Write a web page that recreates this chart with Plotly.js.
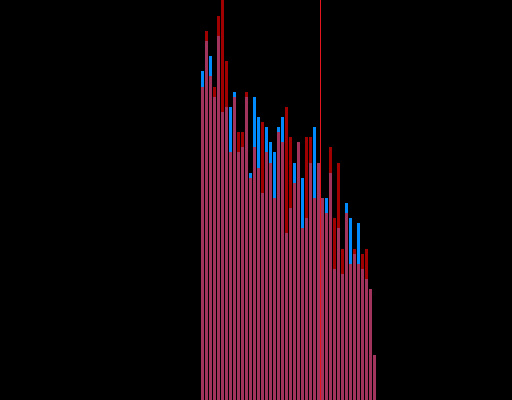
<!DOCTYPE html>
<html>
<head>
<meta charset="utf-8">
<script src="https://cdn.plot.ly/plotly-3.0.1.min.js"></script>
<style>html,body{margin:0;padding:0;background:#000;}#chart{width:512px;height:400px;}</style>
</head>
<body>
<div id="chart"></div>
<script>
var bins = [];
for (var k = 0; k < 44; k++) bins.push(k);
var blueValues = [329,359,344,303,364,288,293,293,308,248,253,303,227,303,283,207,273,258,248,273,283,167,192,237,258,222,182,237,273,237,202,202,227,131,172,126,197,182,146,177,131,121,111,45];
var redValues = [313,369,324,313,384,400,339,248,303,268,268,308,222,253,232,278,248,237,202,268,258,293,263,217,258,172,263,263,202,237,202,187,253,182,237,151,187,136,151,136,146,151,111,45];
var markerLine = 29.5;

var traces = [
  {type: 'bar', x: bins, y: blueValues, marker: {color: 'rgb(0,140,255)', line: {width: 0}}, opacity: 1, hoverinfo: 'none'},
  {type: 'bar', x: bins, y: redValues, marker: {color: 'rgb(255,0,0)', line: {width: 0}}, opacity: 0.63, hoverinfo: 'none'}
];
var layout = {
  width: 512, height: 400,
  margin: {l: 0, r: 0, t: 0, b: 0, pad: 0},
  paper_bgcolor: '#000', plot_bgcolor: '#000',
  barmode: 'overlay', bargap: 0.25,
  showlegend: false,
  xaxis: {range: [-50.625, 77.375], visible: false, showgrid: false, zeroline: false},
  yaxis: {range: [0, 400], visible: false, showgrid: false, zeroline: false},
  shapes: [{type: 'line', xref: 'x', yref: 'paper', x0: markerLine, x1: markerLine, y0: 0, y1: 1, line: {color: 'rgb(230,20,30)', width: 1}}]
};
Plotly.newPlot('chart', traces, layout, {staticPlot: true, displayModeBar: false});
</script>
</body>
</html>
